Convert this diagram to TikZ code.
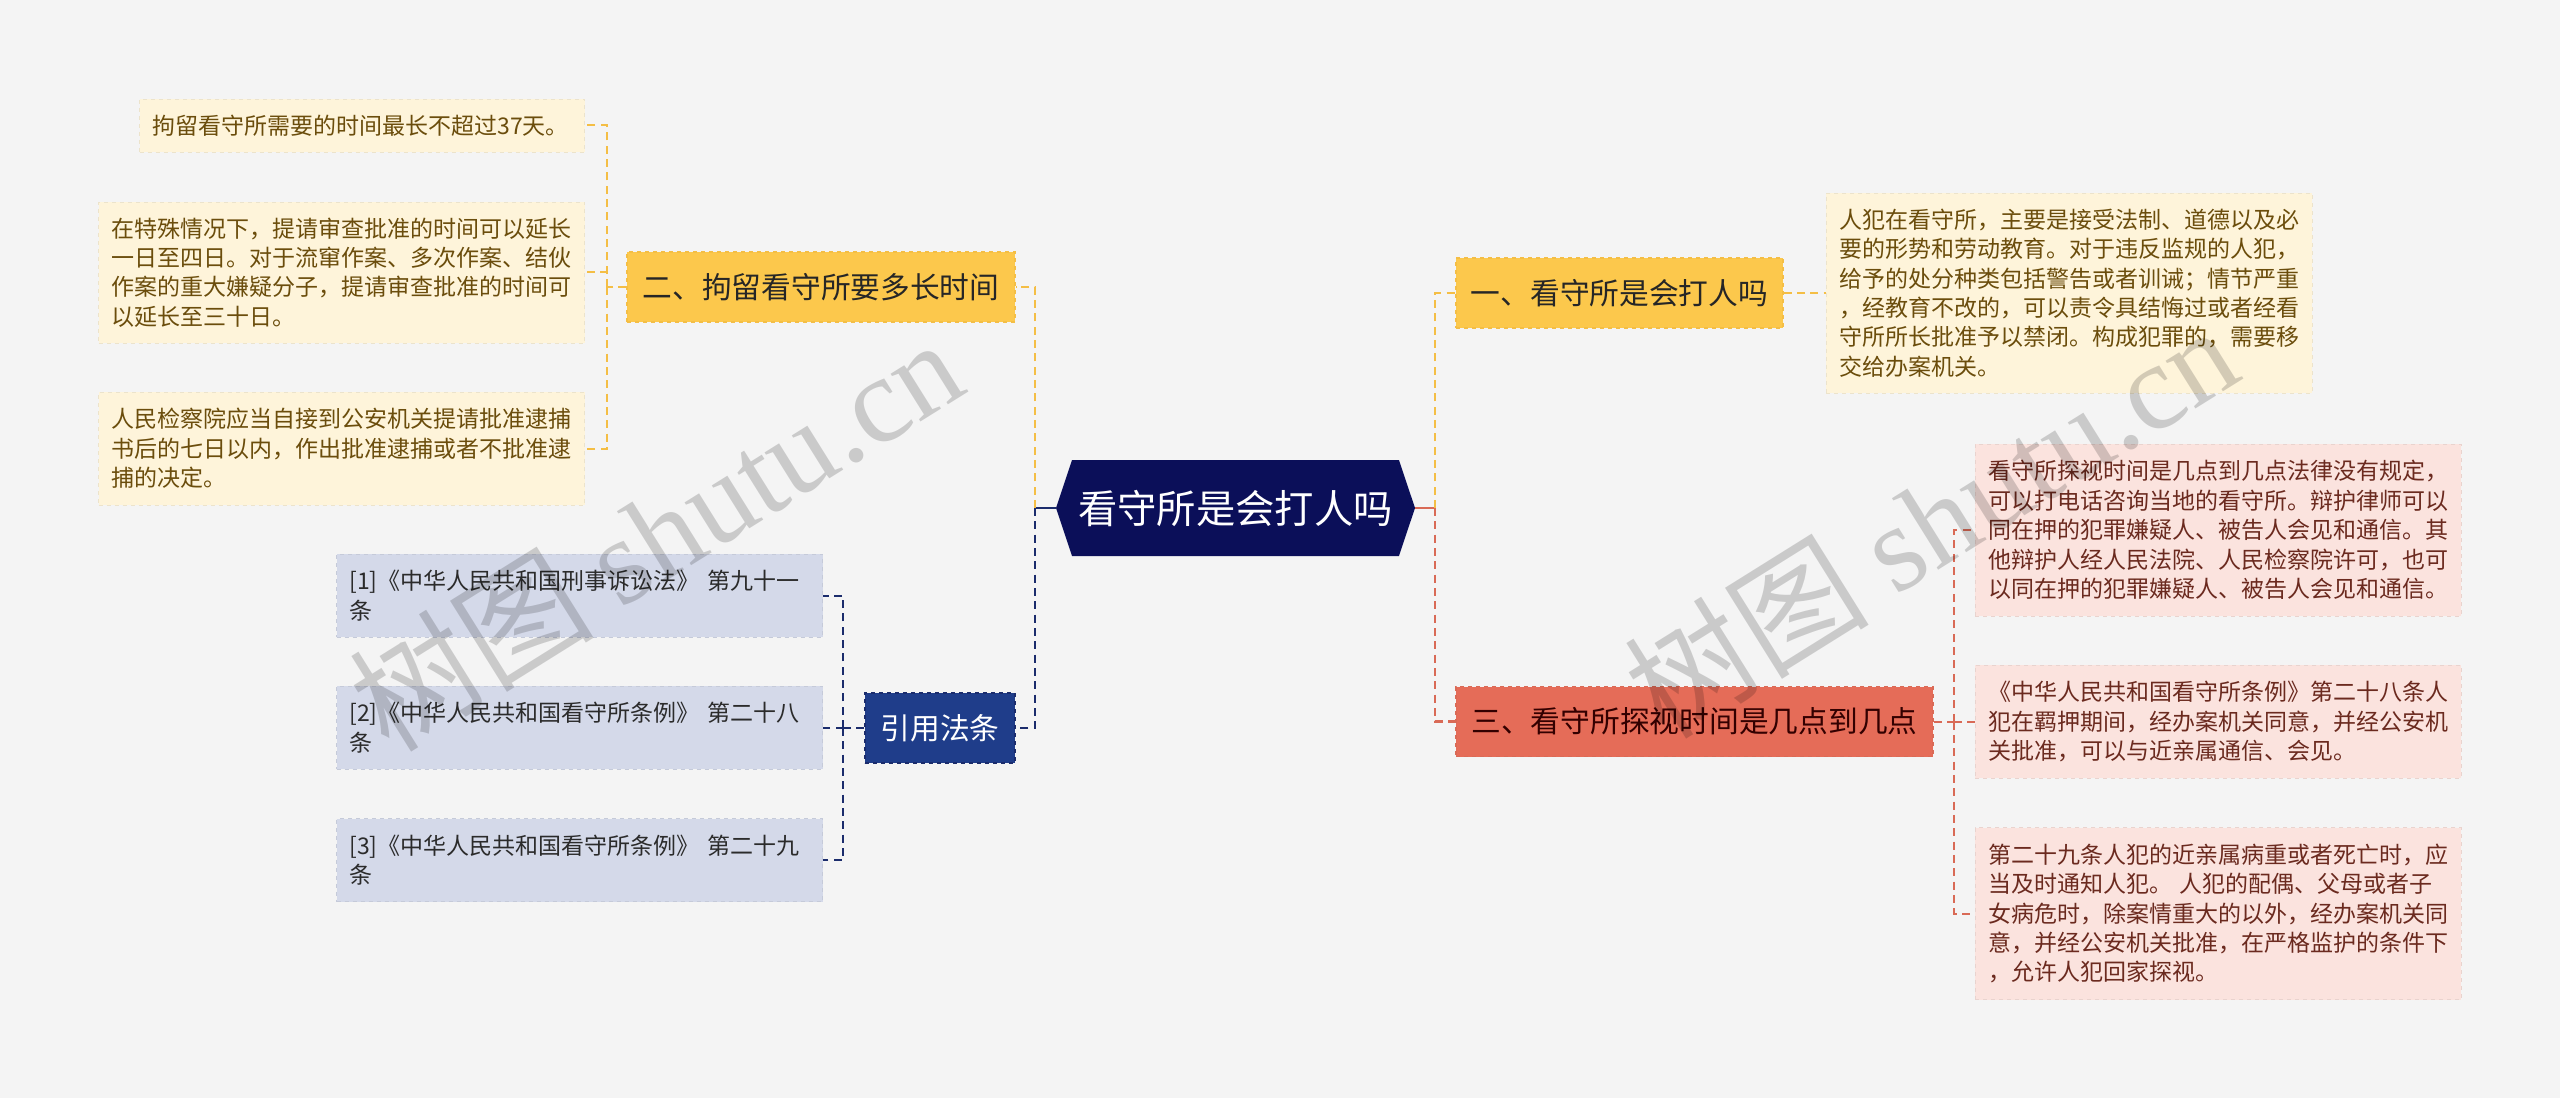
\documentclass[tikz,border=0pt]{standalone}
\usepackage{fontspec}
\setmainfont{Noto Sans CJK SC}
\newfontfamily\wmlatin{Liberation Serif}
\usetikzlibrary{shapes.symbols}

\definecolor{bgpage}{HTML}{F4F4F4}
\definecolor{rootnavy}{HTML}{0B0F59}
\definecolor{sunyel}{HTML}{FCC84C}
\definecolor{sunline}{HTML}{F4BE45}
\definecolor{coral}{HTML}{E56C58}
\definecolor{coralline}{HTML}{D96A56}
\definecolor{refblue}{HTML}{1F3D8A}
\definecolor{refline}{HTML}{1B2C6C}
\definecolor{creambox}{HTML}{FEF4DA}
\definecolor{creamtext}{HTML}{6B4D0C}
\definecolor{pinkbox}{HTML}{FBE3DE}
\definecolor{pinktext}{HTML}{6B2A1F}
\definecolor{refbox}{HTML}{D4D9E9}
\definecolor{reftext}{HTML}{2B2B2B}

\begin{document}
\begin{tikzpicture}[x=0.75pt,y=-0.75pt,
  rootshape/.style={signal, signal to=east and west, signal pointer angle=143,
    fill=rootnavy, text=white, inner sep=0pt,
    minimum width=269.25pt, minimum height=72pt,
    font=\fontsize{29.5}{32}\selectfont},
  branchbox/.style={rectangle, dashed, line width=1pt, inner sep=0pt,
    minimum height=52.5pt, font=\fontsize{22.3}{26}\selectfont},
  leafbox/.style={rectangle, dashed, line width=0.6pt, inner xsep=9.5pt, inner ysep=4pt,
    text width=345.5pt, align=left, font=\fontsize{17.25}{22.1}\selectfont},
  creamleaf/.style={leafbox, fill=creambox, draw=creambox!93!black, text=creamtext},
  pinkleaf/.style={leafbox, fill=pinkbox, draw=pinkbox!93!black, text=pinktext},
  refleaf/.style={leafbox, fill=refbox, draw=refbox!93!black, text=reftext},
  stub/.style={line width=2.2pt},
  mainlink/.style={line width=2.2pt, dash pattern=on 6pt off 4pt},
  leaflink/.style={line width=1.5pt, dash pattern=on 6pt off 4pt},
  wmark/.style={text=black, text opacity=0.17, rotate=32,
    font=\fontsize{92}{96}\selectfont}]

% Canvas, same size as the original export.
\useasboundingbox (0,0) rectangle (2560,1098);
\fill[bgpage] (0,0) rectangle (2560,1098);

% Central topic.
\node[rootshape] (root) at (1235.5,508) {看守所是会打人吗};

% First-level topics.
\node[branchbox, fill=sunyel, draw=sunline, text=black!85, minimum width=291pt] (hold) at (821,287) {二、拘留看守所要多长时间};
\node[branchbox, fill=refblue, draw=refline, text=white, minimum width=112.5pt] (cite) at (940,728) {引用法条};
\node[branchbox, fill=sunyel, draw=sunline, text=black!85, minimum width=245.25pt] (beat) at (1619.5,293) {一、看守所是会打人吗};
\node[branchbox, fill=coral, draw=coralline, text=black!80!red, minimum width=357.75pt] (visit) at (1694.5,721.5) {三、看守所探视时间是几点到几点};

% Detention-time notes (left, top).
\node[creamleaf, anchor=east, text width=314.75pt, minimum height=39.75pt] (hold-a) at (585,125.5) {拘留看守所需要的时间最长不超过37天。};
\node[creamleaf, anchor=east, minimum height=105.75pt] (hold-b) at (585,272.5) {在特殊情况下，提请审查批准的时间可以延长\\一日至四日。对于流窜作案、多次作案、结伙\\作案的重大嫌疑分子，提请审查批准的时间可\\以延长至三十日。};
\node[creamleaf, anchor=east, minimum height=84.75pt] (hold-c) at (585,448.5) {人民检察院应当自接到公安机关提请批准逮捕\\书后的七日以内，作出批准逮捕或者不批准逮\\捕的决定。};

% Cited articles (left, bottom).
\node[refleaf, anchor=east, minimum height=62.25pt] (cite-1) at (823,595.5) {[1]《中华人民共和国刑事诉讼法》~第九十一\\条};
\node[refleaf, anchor=east, minimum height=62.25pt] (cite-2) at (823,727.5) {[2]《中华人民共和国看守所条例》~第二十八\\条};
\node[refleaf, anchor=east, minimum height=62.25pt] (cite-3) at (823,860) {[3]《中华人民共和国看守所条例》~第二十九\\条};

% Right-hand notes.
\node[creamleaf, anchor=west, minimum height=150pt] (beat-a) at (1826,293) {人犯在看守所，主要是接受法制、道德以及必\\要的形势和劳动教育。对于违反监规的人犯，\\给予的处分种类包括警告或者训诫；情节严重\\，经教育不改的，可以责令具结悔过或者经看\\守所所长批准予以禁闭。构成犯罪的，需要移\\交给办案机关。};
\node[pinkleaf, anchor=west, minimum height=129pt] (visit-a) at (1975,530) {看守所探视时间是几点到几点法律没有规定，\\可以打电话咨询当地的看守所。辩护律师可以\\同在押的犯罪嫌疑人、被告人会见和通信。其\\他辩护人经人民法院、人民检察院许可，也可\\以同在押的犯罪嫌疑人、被告人会见和通信。};
\node[pinkleaf, anchor=west, minimum height=84.75pt] (visit-b) at (1975,721.5) {《中华人民共和国看守所条例》第二十八条人\\犯在羁押期间，经办案机关同意，并经公安机\\关批准，可以与近亲属通信、会见。};
\node[pinkleaf, anchor=west, minimum height=129pt] (visit-c) at (1975,913.5) {第二十九条人犯的近亲属病重或者死亡时，应\\当及时通知人犯。~人犯的配偶、父母或者子\\女病危时，除案情重大的以外，经办案机关同\\意，并经公安机关批准，在严格监护的条件下\\，允许人犯回家探视。};

% Junction points.
\coordinate (lj) at (1035,508);
\coordinate (rj) at (1435,508);
\coordinate (hj) at (607,287);
\coordinate (cj) at (843,728);
\coordinate (vj) at (1954,721.5);

% Root to first level.
\draw[stub, refline] (root.west) -- (lj);
\draw[stub, coralline] (root.east) -- (rj);
\draw[mainlink, sunline] (lj) |- (hold.east);
\draw[mainlink, refline] (lj) |- (cite.east);
\draw[mainlink, sunline] (rj) |- (beat.west);
\draw[mainlink, coralline] (rj) |- (visit.west);

% First level to notes.
\draw[leaflink, sunline] (hold.west) -- (hj);
\foreach \leaf in {hold-a,hold-b,hold-c}
  \draw[leaflink, sunline] (hj) |- (\leaf.east);
\draw[leaflink, refline] (cite.west) -- (cj);
\foreach \leaf in {cite-1,cite-2,cite-3}
  \draw[leaflink, refline] (cj) |- (\leaf.east);
\draw[leaflink, sunline] (beat.east) -- (beat-a.west);
\draw[leaflink, coralline] (visit.east) -- (vj);
\foreach \leaf in {visit-a,visit-b,visit-c}
  \draw[leaflink, coralline] (vj) |- (\leaf.west);

% Watermarks.
\node[wmark] (wm-left) at (655,533) {树图 {\wmlatin shutu.cn}};
\node[wmark] (wm-right) at (1930,520) {树图 {\wmlatin shutu.cn}};
\end{tikzpicture}
\end{document}
